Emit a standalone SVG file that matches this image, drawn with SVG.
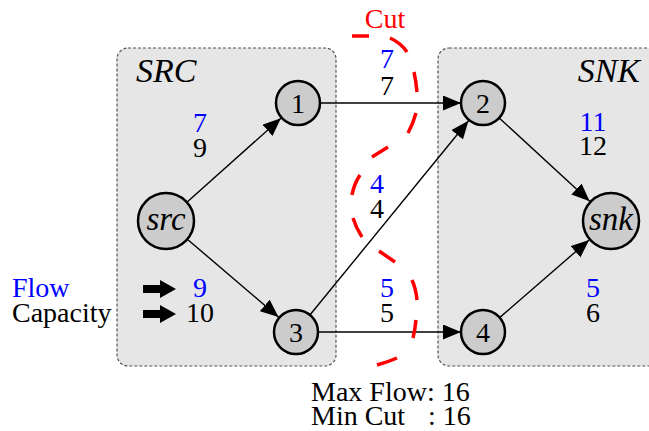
<svg xmlns="http://www.w3.org/2000/svg" width="649" height="431" viewBox="0 0 649 431" font-family="'Liberation Serif', 'Times New Roman', serif">
<style>
  text { font-family: "Liberation Serif", "Times New Roman", serif; font-size: 28px; fill: #000; }
  .flow { fill: #0000ff; }
  .cap { fill: #000; }
  .mid { text-anchor: middle; }
  .it { font-style: italic; }
  .big { font-size: 34px; }
  .nm { font-size: 33px; }
  .box { fill: #e6e6e6; stroke: #555; stroke-width: 1.2; stroke-dasharray: 3 2; }
  .node circle { fill: #cccccc; stroke: #000; stroke-width: 2.5; }
  .edge { stroke: #000; stroke-width: 1.4; fill: none; marker-end: url(#arr); }
  .cut { stroke: #ff0000; stroke-width: 3.5; fill: none; stroke-linecap: butt; }
</style>
<defs>
  <marker id="arr" markerUnits="userSpaceOnUse" markerWidth="20" markerHeight="16" refX="18" refY="7.5" orient="auto">
    <path d="M0,0 L18,7.5 L0,15 z" fill="#000"/>
  </marker>
</defs>
<rect width="649" height="431" fill="#fff"/>

<g id="src-group">
  <rect class="box" x="117" y="48" width="219" height="318" rx="11"/>
  <text class="it big" x="136" y="82">SRC</text>
</g>
<g id="snk-group">
  <rect class="box" x="438" y="48" width="230" height="318" rx="11"/>
  <text class="it big" x="640" y="82" style="text-anchor:end">SNK</text>
</g>

<g id="connectors">
  <line class="edge" x1="186.9" y1="202.3" x2="280.9" y2="118.3"/>
  <line class="edge" x1="187.3" y1="239.2" x2="278.5" y2="317.1"/>
  <line class="edge" x1="320" y1="103" x2="461" y2="103"/>
  <line class="edge" x1="318" y1="332" x2="461" y2="332"/>
  <line class="edge" x1="309.9" y1="315" x2="468.5" y2="120.8"/>
  <line class="edge" x1="499.2" y1="117.9" x2="589.7" y2="201.3"/>
  <line class="edge" x1="499.6" y1="317.6" x2="589.1" y2="240"/>
</g>

<g id="edge-labels">
  <text class="flow mid" x="200" y="132">7</text>
  <text class="cap mid" x="200" y="157">9</text>
  <text class="flow mid" x="387" y="68">7</text>
  <text class="cap mid" x="387" y="95">7</text>
  <text class="flow mid" x="593" y="131">11</text>
  <text class="cap mid" x="593" y="155">12</text>
  <text class="flow mid" x="377" y="193">4</text>
  <text class="cap mid" x="377" y="218">4</text>
  <text class="flow mid" x="387" y="297">5</text>
  <text class="cap mid" x="387" y="322">5</text>
  <text class="flow mid" x="593" y="297">5</text>
  <text class="cap mid" x="593" y="322">6</text>
</g>

<g id="node-src" class="node">
  <circle cx="166" cy="221" r="28"/>
  <text class="mid it nm" x="166" y="230">src</text>
</g>
<g id="node-1" class="node">
  <circle cx="298" cy="103" r="22"/>
  <text class="mid" x="298" y="113">1</text>
</g>
<g id="node-2" class="node">
  <circle cx="483" cy="103" r="22"/>
  <text class="mid" x="483" y="113">2</text>
</g>
<g id="node-3" class="node">
  <circle cx="296" cy="332" r="22"/>
  <text class="mid" x="296" y="342">3</text>
</g>
<g id="node-4" class="node">
  <circle cx="483" cy="332" r="22"/>
  <text class="mid" x="483" y="342">4</text>
</g>
<g id="node-snk" class="node">
  <circle cx="611" cy="221" r="28"/>
  <text class="mid it nm" x="611" y="230">snk</text>
</g>

<g id="cut">
  <path class="cut" d="M352,36 L369,36 M390,38 Q401,43 407,52 M414,72 Q416,81 417,92 M416,113 Q413,124 408,133 M388,147 L372,157 M360,175 Q354,184 352,195 M353,218 Q356,228 362,237 M379,251 L395,262 M412,280 Q416,289 417,300 M416,320 Q415,330 413,338 M397,358 Q388,362 377,365"/>
  <text x="385" y="28" class="mid" style="fill:#ff0000">Cut</text>
</g>

<g id="legend">
  <text class="flow" x="12" y="297">Flow</text>
  <text class="cap" x="12" y="322">Capacity</text>
  <path d="M143,285 H160 V280 L176,289 L160,298 V293 H143 z" fill="#000"/>
  <path d="M143,310 H160 V305 L176,314 L160,323 V318 H143 z" fill="#000"/>
  <text class="flow mid" x="200" y="297">9</text>
  <text class="cap mid" x="200" y="322">10</text>
</g>

<g id="result">
  <text x="311" y="401">Max Flow: 16</text>
  <text x="311" y="425">Min Cut</text>
  <text x="428" y="425">: 16</text>
</g>
</svg>
